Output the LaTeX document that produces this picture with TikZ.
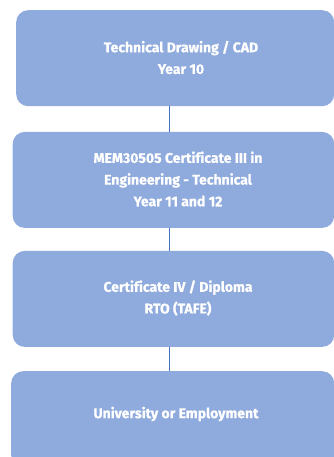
\documentclass[tikz,border=0pt]{standalone}
\usepackage{fontspec}
\setmainfont{Fira Sans}[Ligatures=NoCommon,BoldFeatures={FakeBold=0.6}]
\definecolor{boxfill}{RGB}{143,170,220}
\definecolor{linecol}{RGB}{68,114,196}
\begin{document}
\begin{tikzpicture}[x=1pt,y=-1pt,
  stagebox/.style={draw=none,fill=boxfill,rounded corners=12pt,inner sep=0pt,anchor=north west},
  stagetext/.style={text=white,font=\fontsize{14}{21.7}\selectfont\bfseries,align=center,inner sep=0pt},
  conn/.style={draw=linecol,line width=1.6pt}]
\useasboundingbox (0,0) rectangle (334,457);
\clip (0,0) rectangle (334,457);
\node[stagebox,minimum width=318pt,minimum height=96pt] (b1) at (16,10) {};
\node[stagebox,minimum width=321.5pt,minimum height=96pt] (b2) at (12.5,131.7) {};
\node[stagebox,minimum width=321.5pt,minimum height=96pt] (b3) at (12.5,250.7) {};
\node[stagebox,minimum width=323pt,minimum height=96pt] (b4) at (11,371) {};
\node[stagetext] (t1) at (181,57.5) {Technical Drawing / CAD\\Year 10};
\node[stagetext] (t2) at (178,179) {MEM30505 Certificate III in\\Engineering - Technical\\Year 11 and 12};
\node[stagetext] (t3) at (178,298) {Certificate IV / Diploma\\RTO (TAFE)};
\node[stagetext] (t4) at (176,414) {University or Employment};
\coordinate (cx) at (169.5,0);
\path[conn] (cx |- b1.south) -- (cx |- b2.north);
\path[conn] (cx |- b2.south) -- (cx |- b3.north);
\path[conn] (cx |- b3.south) -- (cx |- b4.north);
\end{tikzpicture}
\end{document}
